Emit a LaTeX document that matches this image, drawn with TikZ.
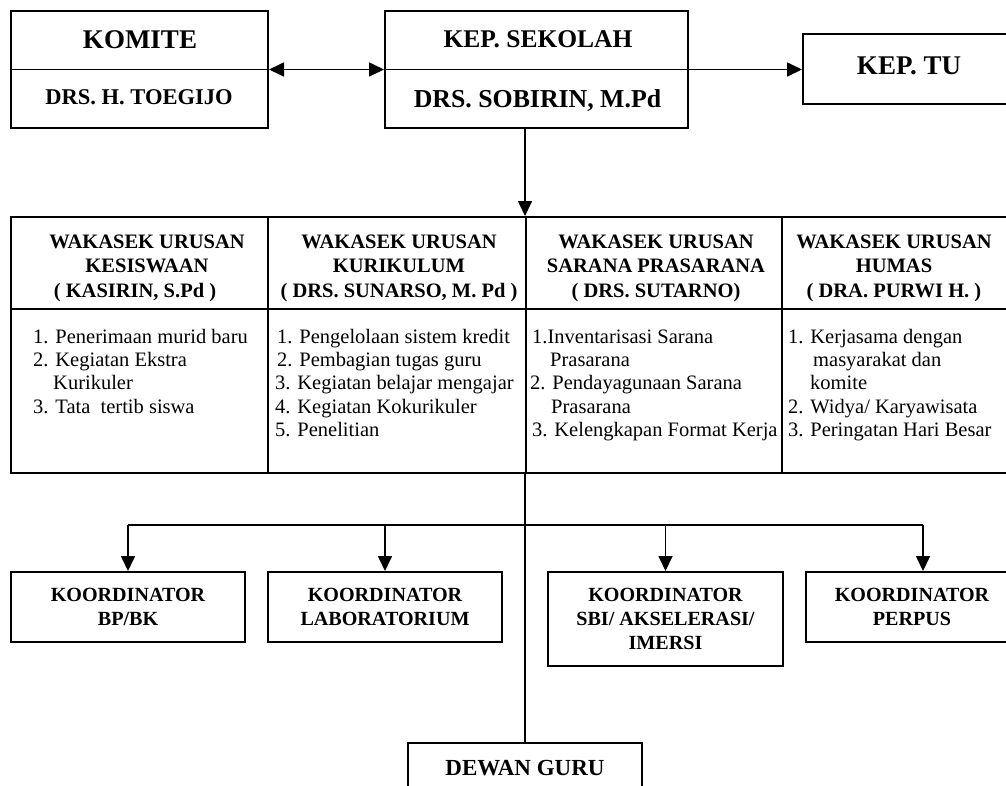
\documentclass[tikz,border=0pt]{standalone}
\usepackage{fontspec}
\setmainfont{Liberation Serif}
\usetikzlibrary{arrows.meta}

\begin{document}
\begin{tikzpicture}[x=1pt,y=-1pt,
  box/.style={draw, line width=2pt, inner sep=0pt},
  grid/.style={line width=1.8pt},
  link/.style={line width=1.7pt},
  tip/.style={-{Triangle[length=15pt,width=14pt]}},
  both/.style={{Triangle[length=15pt,width=14pt]}-{Triangle[length=15pt,width=14pt]}},
  label/.style={inner sep=0pt, anchor=base},
  hdr/.style={inner sep=0pt, anchor=north, align=center,
    font={\fontsize{20.5}{24.5}\selectfont\bfseries}},
  body/.style={inner sep=0pt, anchor=north west, align=left,
    font={\fontsize{20.5}{23.3}\selectfont}},
  koord/.style={box, align=center, minimum height=70pt,
    font={\fontsize{20.1}{24}\selectfont\bfseries}}
]
\useasboundingbox (0,0) rectangle (1006,785);
\fill[white] (0,0) rectangle (1006,785);
\clip (0,0) rectangle (1006,785);

% top level
\node[box, minimum width=257pt, minimum height=117pt] (komite) at (139.5,69.5) {};
\draw[grid] (komite.west) -- (komite.east);
\node[label, font={\fontsize{27}{32}\selectfont\bfseries}] (komiteT) at (140,48) {KOMITE};
\node[label, font={\fontsize{22.5}{27}\selectfont\bfseries}] (komiteN) at (139,104) {DRS. H. TOEGIJO};

\node[box, minimum width=303pt, minimum height=117pt] (kepsek) at (536.5,69.5) {};
\draw[grid] (kepsek.west) -- (kepsek.east);
\node[label, font={\fontsize{25.5}{30}\selectfont\bfseries}] (kepsekT) at (538,47) {KEP. SEKOLAH};
\node[label, font={\fontsize{25.8}{30}\selectfont\bfseries}] (kepsekN) at (537.5,107) {DRS. SOBIRIN, M.Pd};

\node[box, minimum width=212pt, minimum height=70pt] (keptu) at (909,69) {};
\node[label, font={\fontsize{27}{32}\selectfont\bfseries}] (keptuT) at (909,74) {KEP. TU};

% wakasek table
\node[box, minimum width=997pt, minimum height=256pt] (wakasek) at (509.5,345) {};
\draw[grid] (11,309) -- (1008,309);
\draw[grid] (268,217) -- (268,473);
\draw[grid] (526,217) -- (526,473);
\draw[grid] (782,217) -- (782,473);

\node[hdr] (hdr1) at (147,230.85) {\strut WAKASEK URUSAN\\ \strut KESISWAAN\\ \strut ( KASIRIN, S.Pd )\hspace*{24pt}};
\node[hdr] (hdr2) at (399,230.85) {\strut WAKASEK URUSAN\\ \strut KURIKULUM\\ \strut ( DRS. SUNARSO, M. Pd )};
\node[hdr] (hdr3) at (656,230.85) {\strut WAKASEK URUSAN\\ \strut SARANA PRASARANA\\ \strut ( DRS. SUTARNO)};
\node[hdr] (hdr4) at (894,230.85) {\strut WAKASEK URUSAN\\ \strut HUMAS\\ \strut ( DRA. PURWI H. )};

\node[body] (body1) at (33,326.7) {\strut 1. Penerimaan murid baru\\
  \strut 2. Kegiatan Ekstra\\
  \strut\hspace*{20pt}Kurikuler\\
  \strut 3. Tata~~tertib siswa};
\node[body] (body2) at (275,326.7) {\strut\hspace*{2pt}1. Pengelolaan sistem kredit\\
  \strut\hspace*{2pt}2. Pembagian tugas guru\\
  \strut 3. Kegiatan belajar mengajar\\
  \strut 4. Kegiatan Kokurikuler\\
  \strut 5. Penelitian};
\node[body] (body3) at (530,326.7) {\strut\hspace*{2pt}1.Inventarisasi Sarana\\
  \strut\hspace*{20pt}Prasarana\\
  \strut 2. Pendayagunaan Sarana\\
  \strut\hspace*{21pt}Prasarana\\
  \strut\hspace*{2pt}3. Kelengkapan Format Kerja};
\node[body] (body4) at (788,326.7) {\strut 1. Kerjasama dengan\\
  \strut\hspace*{25pt}masyarakat dan\\
  \strut\hspace*{22pt}komite\\
  \strut 2. Widya/ Karyawisata\\
  \strut 3. Peringatan Hari Besar};

% coordinators
\node[koord, minimum width=234pt] (bp) at (128,607) {KOORDINATOR\\BP/BK};
\node[koord, minimum width=234pt] (lab) at (385,607) {KOORDINATOR\\LABORATORIUM};
\node[koord, minimum width=235pt, minimum height=94pt] (sbi) at (665.5,619) {KOORDINATOR\\SBI/ AKSELERASI/\\IMERSI};
\node[koord, minimum width=212pt] (perpus) at (912,607) {KOORDINATOR\\PERPUS};

% dewan guru
\node[box, minimum width=234pt, minimum height=70pt] (dewan) at (525,778) {};
\node[label, font={\fontsize{23}{28}\selectfont\bfseries}] (dewanT) at (525,775) {DEWAN GURU};

% connectors
\draw[link,both] (komite.east) -- (kepsek.west);
\draw[link,tip] (kepsek.east) -- (kepsek.east -| keptu.west);
\draw[link,tip] (kepsek.south -| dewan.north) -- (wakasek.north -| dewan.north);
\draw[link] (wakasek.south -| dewan.north) -- (dewan.north);

\coordinate (branch) at (0,525);
\draw[link] (bp.north |- branch) -- ([xshift=11pt]perpus.north |- branch);
\foreach \n in {bp,lab,sbi}
  \draw[link,tip] (\n.north |- branch) -- (\n.north);
\draw[link,tip] ([xshift=11pt]perpus.north |- branch) -- ([xshift=11pt]perpus.north);
\end{tikzpicture}
\end{document}
